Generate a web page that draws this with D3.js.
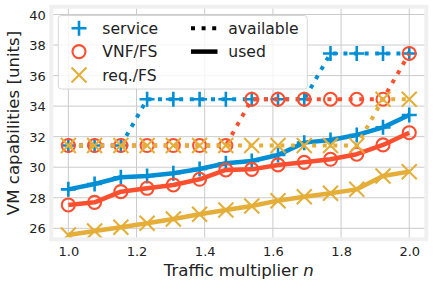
<!DOCTYPE html>
<html>
<head>
<meta charset="utf-8">
<script src="https://cdn.jsdelivr.net/npm/d3@7"></script>
<style>
  html, body { margin: 0; padding: 0; background: #ffffff; }
  svg { display: block; }
  text { font-family: "DejaVu Sans", sans-serif; }
</style>
</head>
<body>
<svg id="chart" width="433" height="291"></svg>
<script>
// ---- data ----
const multipliers = [1.0, 1.077, 1.154, 1.231, 1.308, 1.385, 1.462, 1.538, 1.615, 1.692, 1.769, 1.846, 1.923, 2.0];

const serviceUsed = [28.55, 28.90, 29.34, 29.42, 29.60, 29.88, 30.26, 30.41, 30.80, 31.61, 31.78, 32.11, 32.61, 33.42];
const vnfUsed     = [27.53, 27.70, 28.40, 28.62, 28.84, 29.21, 29.82, 29.86, 30.15, 30.32, 30.52, 30.85, 31.46, 32.26];
const reqUsed     = [25.56, 25.82, 26.07, 26.33, 26.61, 26.92, 27.20, 27.46, 27.81, 28.07, 28.29, 28.55, 29.42, 29.71];

const serviceAvail = [31.42, 31.42, 31.42, 34.45, 34.45, 34.45, 34.45, 34.45, 34.45, 34.45, 37.45, 37.45, 37.45, 37.45];
const vnfAvail     = [31.42, 31.42, 31.42, 31.42, 31.42, 31.42, 31.42, 34.45, 34.45, 34.45, 34.45, 34.45, 34.45, 37.45];
const reqAvail     = [31.42, 31.42, 31.42, 31.42, 31.42, 31.42, 31.42, 31.42, 31.42, 31.42, 31.42, 31.42, 34.45, 34.45];

const seriesNames  = ["service", "VNF/FS", "req./FS"];
const seriesColors = ["#008fd5", "#fc4f30", "#e5ae38"];
const seriesMarkers = ["plus", "circle", "cross"];
const styleNames = ["available", "used"];

const xTicks = [1.0, 1.2, 1.4, 1.6, 1.8, 2.0];
const yTicks = [26, 28, 30, 32, 34, 36, 38, 40];

// ---- layout ----
const svg = d3.select("#chart");
const plot = { left: 51.3, right: 426.3, top: 6.7, bottom: 239.3 };

const x = d3.scaleLinear().domain([0.95, 2.05]).range([plot.left, plot.right]);
const y = d3.scaleLinear().domain([25.28, 40.51]).range([plot.bottom, plot.top]);

// clip
svg.append("defs").append("clipPath").attr("id", "clip")
  .append("rect")
  .attr("x", plot.left).attr("y", plot.top)
  .attr("width", plot.right - plot.left).attr("height", plot.bottom - plot.top);

// grid
const grid = svg.append("g");
grid.selectAll("line.v").data(xTicks).enter().append("line")
  .attr("x1", d => x(d)).attr("x2", d => x(d))
  .attr("y1", plot.top).attr("y2", plot.bottom)
  .attr("stroke", "#cbcbcb").attr("stroke-width", 1);
grid.selectAll("line.h").data(yTicks).enter().append("line")
  .attr("y1", d => y(d)).attr("y2", d => y(d))
  .attr("x1", plot.left).attr("x2", plot.right)
  .attr("stroke", "#cbcbcb").attr("stroke-width", 1);

// axes (labels only, no tick marks)
const xAxis = d3.axisBottom(x).tickValues(xTicks).tickFormat(d3.format(".1f")).tickSize(0).tickPadding(0);
const gx = svg.append("g").attr("transform", `translate(0,${plot.bottom})`).call(xAxis);
gx.select(".domain").remove();
gx.selectAll("text").attr("font-size", 13).attr("fill", "#222")
  .attr("font-family", "DejaVu Sans").attr("dy", null).attr("y", 16.3);

const yAxis = d3.axisLeft(y).tickValues(yTicks).tickFormat(d3.format("d")).tickSize(0).tickPadding(0);
const gy = svg.append("g").attr("transform", `translate(${plot.left},0)`).call(yAxis);
gy.select(".domain").remove();
gy.selectAll("text").attr("font-size", 13).attr("fill", "#222")
  .attr("font-family", "DejaVu Sans").attr("x", -5.6).attr("dy", "0.36em");

// marker painter
function drawMarker(g, type, color, size) {
  const h = size / 2;
  if (type === "plus") {
    g.append("path").attr("d", `M${-h},0H${h}M0,${-h}V${h}`)
      .attr("stroke", color).attr("stroke-width", 2.6).attr("fill", "none");
  } else if (type === "circle") {
    g.append("circle").attr("r", h - 1).attr("stroke", color)
      .attr("stroke-width", 2.1).attr("fill", "none");
  } else {
    g.append("path").attr("d", `M${-h},${-h}L${h},${h}M${-h},${h}L${h},${-h}`)
      .attr("stroke", color).attr("stroke-width", 2.1).attr("fill", "none");
  }
}

const data = svg.append("g").attr("clip-path", "url(#clip)");
const lineGen = d3.line().x(d => x(d[0])).y(d => y(d[1]));

const usedSets  = [serviceUsed, vnfUsed, reqUsed];
const availSets = [serviceAvail, vnfAvail, reqAvail];

function drawSeries(vals, i, dotted) {
  const pts = multipliers.map((m, k) => [m, vals[k]]);
  const p = data.append("path").attr("d", lineGen(pts))
    .attr("fill", "none").attr("stroke", seriesColors[i])
    .attr("stroke-width", dotted ? 4 : 4.5)
    .attr("stroke-linejoin", "round");
  if (dotted) p.attr("stroke-dasharray", "4,6.6");
  pts.forEach(pt => {
    const g = data.append("g").attr("transform", `translate(${x(pt[0])},${y(pt[1])})`);
    drawMarker(g, seriesMarkers[i], seriesColors[i], 15);
  });
}

usedSets.forEach((vals, i) => drawSeries(vals, i, false));
availSets.forEach((vals, i) => drawSeries(vals, i, true));

// spines
svg.append("rect")
  .attr("x", plot.left).attr("y", plot.top)
  .attr("width", plot.right - plot.left).attr("height", plot.bottom - plot.top)
  .attr("fill", "none").attr("stroke", "#f0f0f0").attr("stroke-width", 4);

// axis labels
svg.append("text")
  .attr("x", (plot.left + plot.right) / 2).attr("y", 275.5)
  .attr("text-anchor", "middle").attr("font-size", 16.6).attr("fill", "#222")
  .call(t => {
    t.append("tspan").text("Traffic multiplier ");
    t.append("tspan").attr("font-style", "italic").text("n");
  });

svg.append("text")
  .attr("transform", `translate(19.3,${(plot.top + plot.bottom) / 2}) rotate(-90)`)
  .attr("text-anchor", "middle").attr("font-size", 16.6).attr("fill", "#222")
  .text("VM capabilities [units]");

// legend
const leg = svg.append("g");
leg.append("rect")
  .attr("x", 58.3).attr("y", 15.5).attr("width", 249).attr("height", 73.5)
  .attr("rx", 3).attr("fill", "#ffffff").attr("fill-opacity", 0.8)
  .attr("stroke", "#d6d6d6").attr("stroke-width", 1);

const rowY = [28.3, 51.6, 74.9];
seriesNames.forEach((name, i) => {
  const g = leg.append("g").attr("transform", `translate(79,${rowY[i]})`);
  drawMarker(g, seriesMarkers[i], seriesColors[i], 15);
  leg.append("text").attr("x", 102.3).attr("y", rowY[i]).attr("dy", "0.36em")
    .attr("font-size", 15.6).attr("fill", "#222").text(name);
});
styleNames.forEach((name, i) => {
  const l = leg.append("line")
    .attr("x1", 191).attr("x2", 217.5).attr("y1", rowY[i]).attr("y2", rowY[i])
    .attr("stroke", "#000").attr("stroke-width", i === 0 ? 4 : 4.5);
  if (i === 0) l.attr("stroke-dasharray", "4,6.6");
  leg.append("text").attr("x", 228.3).attr("y", rowY[i]).attr("dy", "0.36em")
    .attr("font-size", 15.6).attr("fill", "#222").text(name);
});
</script>
</body>
</html>
